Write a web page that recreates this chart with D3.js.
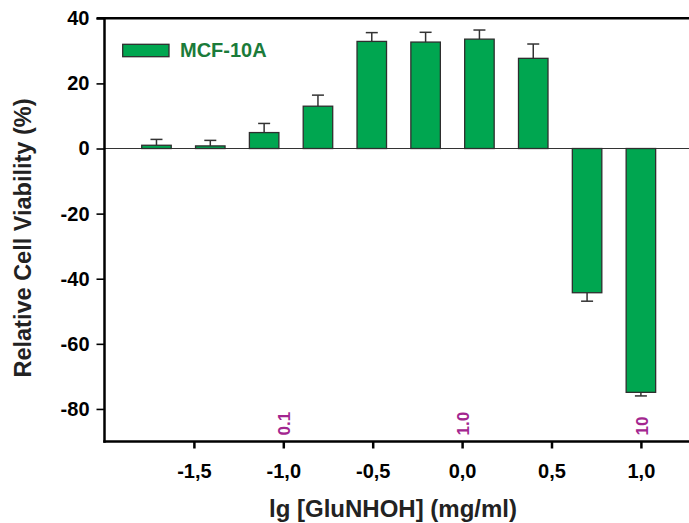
<!DOCTYPE html>
<html>
<head>
<meta charset="utf-8">
<script src="https://cdn.jsdelivr.net/npm/d3@7"></script>
<style>
  html, body { margin: 0; padding: 0; background: #fff; }
  svg { display: block; }
  text { font-family: "Liberation Sans", Arial, Helvetica, sans-serif; font-weight: bold; }
</style>
</head>
<body>
<div id="chart"></div>
<script>
// ---- data ----
const concentrations = [0.01953, 0.03906, 0.07813, 0.15625, 0.3125, 0.625, 1.25, 2.5, 5, 10]; // mg/ml
const viability = [1.0, 0.8, 4.9, 13.0, 32.9, 32.7, 33.6, 27.7, -44.3, -74.9];
const errors = [1.8, 1.7, 2.8, 3.4, 2.7, 3.0, 2.8, 4.4, 2.6, 1.1];
const xTicks = [-1.5, -1.0, -0.5, 0.0, 0.5, 1.0];
const yTicks = [-80, -60, -40, -20, 0, 20, 40];
const concLabels = [{v: -1, t: "0.1"}, {v: 0, t: "1.0"}, {v: 1, t: "10"}];
const seriesName = "MCF-10A";

// ---- layout ----
const W = 689, H = 523;
const mLeft = 104.5, mTop = 18.3, mBottom = 441.5;
const xScale = d3.scaleLinear().domain([-2, 1.5]).range([mLeft, mLeft + 3.5 * 178.8]);
const yScale = d3.scaleLinear().domain([-90, 40]).range([mBottom, mTop]);
const barW = 29.5;
const fill = "#00a650", textGreen = "#1b7b3a", purple = "#a3268f";

const svg = d3.select("#chart").append("svg").attr("width", W).attr("height", H);

const data = concentrations.map((c, i) => ({x: Math.log10(c), v: viability[i], e: errors[i]}));

// zero line
svg.append("line")
  .attr("x1", xScale(-2)).attr("x2", W)
  .attr("y1", yScale(0)).attr("y2", yScale(0))
  .attr("stroke", "#333").attr("stroke-width", 1.2);

// error bars (one-sided, away from zero)
const eb = svg.append("g").attr("stroke", "#333").attr("stroke-width", 1.5);
data.forEach(d => {
  const sgn = d.v >= 0 ? 1 : -1;
  const y0 = yScale(d.v), y1 = yScale(d.v + sgn * d.e);
  const cx = xScale(d.x);
  eb.append("line").attr("x1", cx).attr("x2", cx).attr("y1", y0).attr("y2", y1);
  eb.append("line").attr("x1", cx - 6).attr("x2", cx + 6).attr("y1", y1).attr("y2", y1);
});

// bars
svg.append("g").selectAll("rect").data(data).join("rect")
  .attr("x", d => xScale(d.x) - barW / 2)
  .attr("width", barW)
  .attr("y", d => yScale(Math.max(0, d.v)))
  .attr("height", d => Math.abs(yScale(d.v) - yScale(0)))
  .attr("fill", fill)
  .attr("stroke", "#2e2e2e")
  .attr("stroke-width", 1.3);

// y axis
const yAxis = svg.append("g").attr("transform", `translate(${mLeft},0)`)
  .call(d3.axisLeft(yScale).tickValues(yTicks).tickSize(8).tickPadding(7).tickFormat(d => String(d)));
yAxis.select(".domain").remove();
yAxis.selectAll(".tick line").attr("stroke", "#000").attr("stroke-width", 1.6);
yAxis.selectAll(".tick text").attr("font-size", 20).attr("fill", "#000")
  .attr("font-family", "Liberation Sans, Arial, sans-serif").attr("font-weight", "bold");

// x axis
const xAxis = svg.append("g").attr("transform", `translate(0,${mBottom})`)
  .call(d3.axisBottom(xScale).tickValues(xTicks).tickSize(7).tickPadding(15)
    .tickFormat(d => d.toFixed(1).replace(".", ",")));
xAxis.select(".domain").remove();
xAxis.selectAll(".tick line").attr("stroke", "#000").attr("stroke-width", 2.5);
xAxis.selectAll(".tick text").attr("font-size", 20).attr("fill", "#000")
  .attr("font-family", "Liberation Sans, Arial, sans-serif").attr("font-weight", "bold");

// frame lines
svg.append("line").attr("x1", mLeft).attr("x2", mLeft).attr("y1", mTop - 1.2).attr("y2", mBottom + 1.2)
  .attr("stroke", "#000").attr("stroke-width", 2.5);
svg.append("line").attr("x1", mLeft - 8).attr("x2", W).attr("y1", mTop).attr("y2", mTop)
  .attr("stroke", "#000").attr("stroke-width", 2.5);
svg.append("line").attr("x1", mLeft - 1.2).attr("x2", W).attr("y1", mBottom).attr("y2", mBottom)
  .attr("stroke", "#000").attr("stroke-width", 2.5);

// concentration labels (purple, rotated)
concLabels.forEach(l => {
  const cx = xScale(l.v);
  svg.append("text")
    .attr("transform", `translate(${cx + 7},${mBottom - 6}) rotate(-90)`)
    .attr("font-size", 17).attr("fill", purple)
    .attr("text-anchor", "start")
    .text(l.t);
});

// legend
svg.append("rect").attr("x", 122.7).attr("y", 44.3).attr("width", 46.3).attr("height", 12.4)
  .attr("fill", fill).attr("stroke", "#2e2e2e").attr("stroke-width", 1.3);
svg.append("text").attr("x", 180).attr("y", 57).attr("font-size", 20).attr("fill", textGreen).text(seriesName);

// axis titles
svg.append("text")
  .attr("transform", `translate(31,238) rotate(-90)`)
  .attr("text-anchor", "middle").attr("font-size", 23.5).attr("fill", "#222")
  .text("Relative Cell Viability (%)");
svg.append("text")
  .attr("x", 393).attr("y", 516.5)
  .attr("text-anchor", "middle").attr("font-size", 24).attr("fill", "#222")
  .text("lg [GluNHOH] (mg/ml)");
</script>
</body>
</html>
